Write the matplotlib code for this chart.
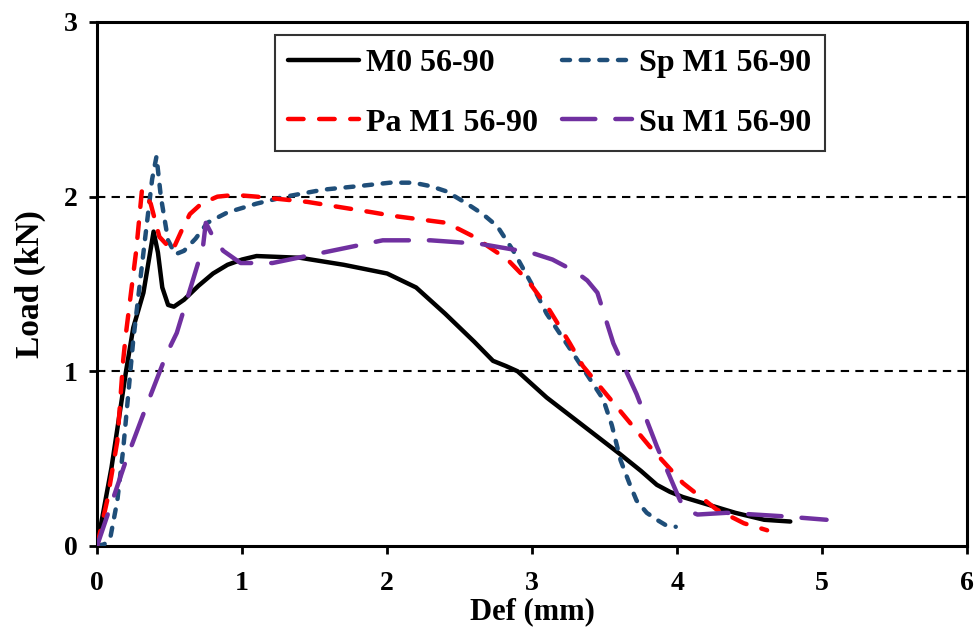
import matplotlib
matplotlib.use("Agg")
import matplotlib.pyplot as plt

# ---- data ----
m0_x = [0, 0.1, 0.2, 0.25, 0.32, 0.36, 0.39, 0.42, 0.45, 0.49, 0.53, 0.6, 0.7, 0.8, 0.9, 1.0, 1.1, 1.4, 1.7, 2.0, 2.2,
        2.4, 2.6, 2.73, 2.82, 2.9, 3.1, 3.35, 3.6, 3.75, 3.86, 3.95, 4.04, 4.2, 4.4, 4.6, 4.78]
m0_y = [0, 0.45, 1.0, 1.25, 1.45, 1.65, 1.8, 1.68, 1.48, 1.38, 1.37, 1.41, 1.49, 1.56, 1.61, 1.64, 1.66, 1.65, 1.61, 1.56, 1.48,
        1.33, 1.17, 1.06, 1.03, 1.0, 0.85, 0.69, 0.53, 0.43, 0.35, 0.31, 0.28, 0.24, 0.19, 0.15, 0.14]

sp_x = [0, 0.05, 0.09, 0.14, 0.18, 0.25, 0.33, 0.38, 0.41, 0.44, 0.49, 0.54, 0.6, 0.68, 0.76, 0.9, 1.1, 1.3, 1.56, 1.8,
        2.02, 2.18, 2.3, 2.41, 2.55, 2.66, 2.76, 2.87, 2.99, 3.1, 3.3, 3.49, 3.55, 3.61, 3.67, 3.72, 3.79, 3.86, 3.92, 3.99]
sp_y = [0, 0.01, 0.04, 0.26, 0.55, 1.18, 1.75, 2.1, 2.23, 2.0, 1.75, 1.67, 1.69, 1.76, 1.85, 1.91, 1.96, 2.0, 2.04, 2.06,
        2.08, 2.08, 2.06, 2.03, 1.96, 1.9, 1.83, 1.69, 1.51, 1.33, 1.08, 0.84, 0.69, 0.49, 0.36, 0.26, 0.19, 0.15, 0.12, 0.11]

pa_x = [0, 0.07, 0.14, 0.18, 0.2, 0.27, 0.31, 0.37, 0.43, 0.52, 0.58, 0.64, 0.72, 0.83, 0.95, 1.1, 1.45, 1.9, 2.04, 2.41,
        2.6, 2.83, 2.97, 3.12, 3.26, 3.35, 3.54, 3.81, 4.04, 4.27, 4.46, 4.62]
pa_y = [0, 0.26, 0.6, 1.06, 1.22, 1.69, 2.04, 1.96, 1.77, 1.69, 1.8, 1.9, 1.96, 2.0, 2.01, 2.0, 1.97, 1.91, 1.89, 1.85,
        1.77, 1.64, 1.52, 1.35, 1.16, 1.03, 0.84, 0.57, 0.36, 0.21, 0.13, 0.09]

su_x = [0, 0.2, 0.34, 0.48, 0.55, 0.73, 0.75, 0.8, 0.87, 0.99, 1.21, 1.56, 1.97, 2.3, 2.64, 2.99, 3.14, 3.3, 3.38,
        3.45, 3.56, 3.72, 3.86, 4.02, 4.08, 4.14, 4.34, 4.73, 5.03]
su_y = [0, 0.49, 0.8, 1.1, 1.22, 1.71, 1.85, 1.77, 1.69, 1.62, 1.62, 1.68, 1.75, 1.75, 1.73, 1.68, 1.64, 1.57, 1.52,
        1.45, 1.16, 0.87, 0.57, 0.26, 0.2, 0.18, 0.19, 0.17, 0.15]

labels = ["M0 56-90", "Pa M1 56-90", "Sp M1 56-90", "Su M1 56-90"]
x_ticks = [0, 1, 2, 3, 4, 5, 6]
y_ticks = [0, 1, 2, 3]

plt.rcParams['font.family'] = ['Liberation Serif', 'DejaVu Serif']
plt.rcParams['font.weight'] = 'bold'

fig = plt.figure(figsize=(9.8, 6.28), dpi=100)
ax = fig.add_axes([0.099, 0.1306, 0.888, 0.8344])

for yv in [1, 2]:
    ax.axhline(yv, color='black', lw=1.5, ls=(0, (4, 3)), zorder=1)

lw = 3.2
h_m0, = ax.plot(m0_x, m0_y, color='black', lw=lw, solid_capstyle='round', solid_joinstyle='round', zorder=3)
h_sp, = ax.plot(sp_x, sp_y, color='#1F4E79', lw=lw, ls=(0, (1.8, 2.4)), dash_capstyle='round', zorder=3)
h_pa, = ax.plot(pa_x, pa_y, color='#FF0000', lw=lw, ls=(0, (3.5, 3.5)), dash_capstyle='round', zorder=3)
h_su, = ax.plot(su_x, su_y, color='#7030A0', lw=lw, ls=(0, (7.5, 4.5)), dash_capstyle='round', zorder=3)

ax.set_xlim(0, 6)
ax.set_ylim(0, 3)
ax.set_xticks(x_ticks)
ax.set_yticks(y_ticks)
ax.tick_params(axis='both', direction='out', length=6, width=2, labelsize=20)
ax.tick_params(axis='y', pad=8)
ax.tick_params(axis='x', pad=12)
for s in ax.spines.values():
    s.set_linewidth(2.2)

ax.set_xlabel("Def (mm)", fontsize=22, fontweight='bold', labelpad=1)
ax.set_ylabel("Load (kN)", fontsize=24, fontweight='bold', labelpad=13)

leg = ax.legend([h_m0, h_pa, h_sp, h_su], labels, ncol=2, loc='upper left',
                bbox_to_anchor=(0.2046, 0.975), borderaxespad=0, frameon=True, fancybox=False,
                handlelength=2.2, handletextpad=0.22, columnspacing=0.75, labelspacing=0.95,
                borderpad=0.42, prop={'weight': 'bold', 'size': 23})
leg.get_frame().set_edgecolor('black')
leg.get_frame().set_linewidth(1.5)

fig.savefig("out.png", dpi=100)
